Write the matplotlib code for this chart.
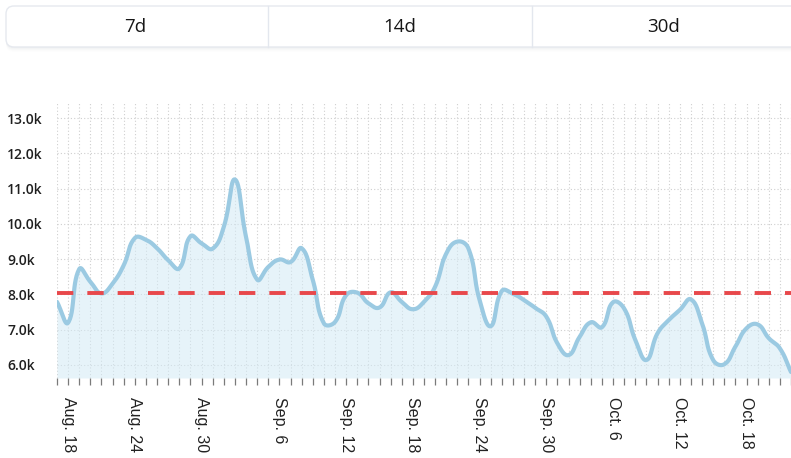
import numpy as np
import pandas as pd
import matplotlib
matplotlib.use("Agg")
import matplotlib.pyplot as plt
from matplotlib.patches import FancyBboxPatch

# ---------------- data ----------------
start_date = "2023-08-17"
values_k = [7.79, 7.20, 8.72, 8.36, 8.03, 8.31, 8.83, 9.60, 9.55, 9.31,
            8.97, 8.74, 9.65, 9.45, 9.30, 9.92, 11.26, 9.63, 8.42, 8.78,
            8.99, 8.92, 9.31, 8.41, 7.18, 7.22, 7.98, 8.05, 7.75, 7.63,
            8.06, 7.79, 7.58, 7.79, 8.22, 9.16, 9.50, 9.30, 7.84, 7.10,
            8.10, 8.02, 7.84, 7.62, 7.37, 6.61, 6.28, 6.80, 7.21, 7.07,
            7.78, 7.60, 6.71, 6.14, 6.90, 7.27, 7.56, 7.86, 7.18, 6.14,
            6.02, 6.52, 7.04, 7.15, 6.76, 6.47, 5.80]
average_k = 8.05
label_days = ["Aug. 18", "Aug. 24", "Aug. 30", "Sep. 6", "Sep. 12", "Sep. 18",
              "Sep. 24", "Sep. 30", "Oct. 6", "Oct. 12", "Oct. 18"]
y_ticks = [6, 7, 8, 9, 10, 11, 12, 13]
buttons = ["7d", "14d", "30d"]

# ---------------- figure ----------------
W, H = 791, 458
fig = plt.figure(figsize=(W / 100, H / 100), dpi=100)
fig.patch.set_facecolor("white")

# button bar (pixel coordinates overlay)
bar_ax = fig.add_axes([0, 0, 1, 1], zorder=0)
bar_ax.set_xlim(0, W)
bar_ax.set_ylim(H, 0)
bar_ax.axis("off")
for k, a in enumerate([0.06, 0.045, 0.03, 0.02]):
    bar_ax.add_patch(FancyBboxPatch((6, 6 + 1.2 * (k + 1)), 820, 41,
                                    boxstyle="round,pad=0,rounding_size=8",
                                    fc="#9aa3b5", ec="none", alpha=a))
bar_ax.add_patch(FancyBboxPatch((6, 6), 820, 41,
                                boxstyle="round,pad=0,rounding_size=8",
                                fc="white", ec="#e6e9ef", lw=1.0))
for xd in [268, 532]:
    bar_ax.plot([xd, xd], [6, 47], color="#e3e7ee", lw=1.0)
for txt, xc in zip(buttons, [135, 400, 664]):
    bar_ax.text(xc, 27.5, txt, ha="center", va="center", fontsize=13.5,
                family=["Open Sans", "DejaVu Sans"], fontweight="medium",
                color="#161616")

# main chart
left, right, top, bottom = 57, 791, 103, 378
ax = fig.add_axes([left / W, 1 - bottom / H, (right - left) / W, (bottom - top) / H], zorder=1)
ax.set_facecolor("none")

n = len(values_k)
dates = pd.date_range(start_date, periods=n, freq="D")
x = np.arange(n, dtype=float)
y = np.array(values_k)

# Chart.js-like bezier smoothing in pixel-scaled space
sx, sy = 11.13, 35.3
px, py = x * sx, y * sy
t = 0.45
cp_prev = np.zeros((n, 2))
cp_next = np.zeros((n, 2))
for i in range(n):
    p1 = np.array([px[i], py[i]])
    p0 = np.array([px[i - 1], py[i - 1]]) if i > 0 else p1
    p2 = np.array([px[i + 1], py[i + 1]]) if i < n - 1 else p1
    d01 = np.hypot(*(p1 - p0))
    d12 = np.hypot(*(p2 - p1))
    tot = d01 + d12
    s01 = d01 / tot if tot else 0
    s12 = d12 / tot if tot else 0
    cp_prev[i] = p1 - t * s01 * (p2 - p0)
    cp_next[i] = p1 + t * s12 * (p2 - p0)
xs, ys = [], []
tt = np.linspace(0, 1, 30)
for i in range(n - 1):
    P0 = np.array([px[i], py[i]])
    P1 = cp_next[i]
    P2 = cp_prev[i + 1]
    P3 = np.array([px[i + 1], py[i + 1]])
    seg = ((1 - tt) ** 3)[:, None] * P0 + (3 * (1 - tt) ** 2 * tt)[:, None] * P1 \
        + (3 * (1 - tt) * tt ** 2)[:, None] * P2 + (tt ** 3)[:, None] * P3
    xs.append(seg[:, 0])
    ys.append(seg[:, 1])
xs = np.concatenate(xs) / sx
ys = np.concatenate(ys) / sy

ymin, ymax = 5.63, 13.43
ax.fill_between(xs, ys, ymin, color="#d3eaf5", alpha=0.55, lw=0, zorder=1)
ax.plot(xs, ys, color="#9bcae2", lw=3.0, solid_capstyle="round",
        solid_joinstyle="round", zorder=3)
ax.axhline(average_k, color="#e8484b", lw=2.8, dashes=(4.2, 3.6), zorder=4)

ax.set_xlim(0, n - 1)
ax.set_ylim(ymin, ymax)

# grid
for xi in x:
    ax.axvline(xi, color="#cfcfcf", lw=0.8, ls=(0, (1, 2)), zorder=0)
for yv in y_ticks:
    ax.axhline(yv, color="#cfcfcf", lw=0.8, ls=(0, (1, 2)), zorder=0)

for s in ax.spines.values():
    s.set_visible(False)

# x ticks
fmt = [f"{d:%b}. {d.day}" for d in dates]
ax.set_xticks(x)
ax.set_xticklabels([lab if lab in label_days else "" for lab in fmt],
                   rotation=270, fontsize=11.5,
                   family=["Liberation Sans", "DejaVu Sans"], color="#222222")
ax.tick_params(axis="x", length=5, width=0.9, color="#7a7a7a", pad=8.5)

# y ticks
ax.set_yticks(y_ticks)
ax.set_yticklabels([f"{v:.1f}k" for v in y_ticks], fontsize=10,
                   family=["Open Sans", "DejaVu Sans"], fontweight="semibold",
                   color="#1f1f1f")
ax.tick_params(axis="y", length=0, pad=36)
for lbl in ax.get_yticklabels():
    lbl.set_horizontalalignment("left")

fig.savefig("out.png", dpi=100, facecolor="white")
